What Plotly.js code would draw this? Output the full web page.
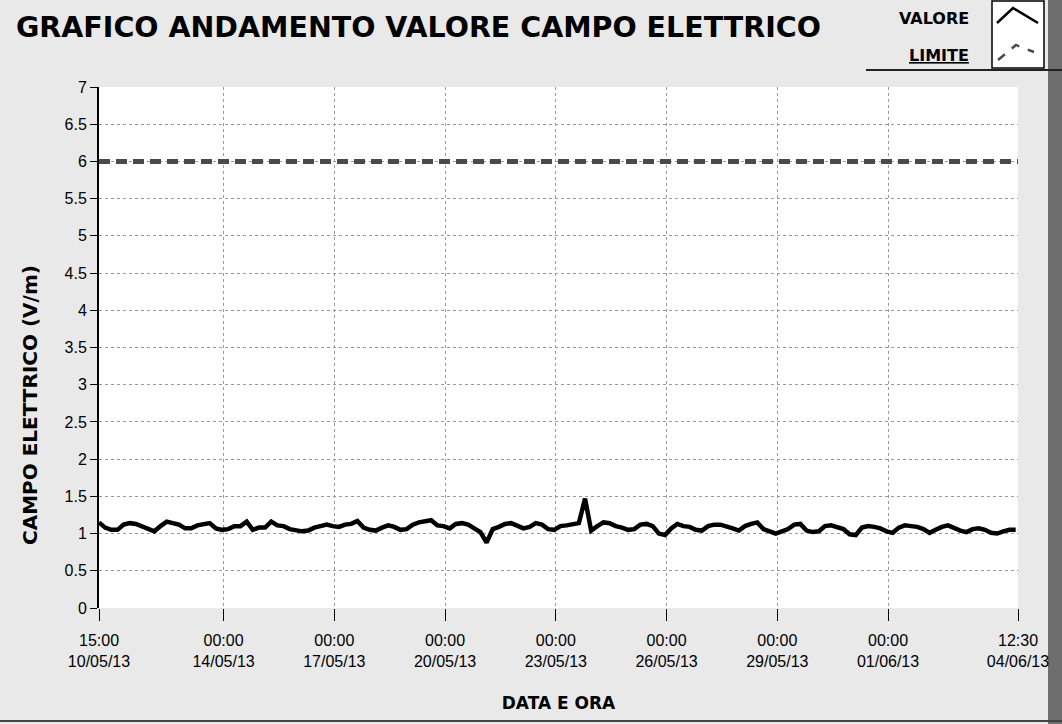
<!DOCTYPE html>
<html>
<head>
<meta charset="utf-8">
<script src="https://cdn.plot.ly/plotly-3.0.1.min.js"></script>
<style>
html,body{margin:0;padding:0;background:#e9e9e9;}
#chart{width:1062px;height:724px;}
</style>
</head>
<body>
<div id="chart"></div>
<script>
// ---- data ----
const startTime = "2013-05-10 15:00";
const endTime = "2013-06-04 12:30";
const stepHours = 4;
const valore = [
1.15,1.08,1.05,1.05,1.12,1.14,1.13,1.10,1.06,1.03,
1.10,1.16,1.14,1.12,1.07,1.07,1.11,1.12,1.14,1.07,
1.05,1.06,1.10,1.10,1.16,1.05,1.08,1.08,1.16,1.11,
1.10,1.06,1.04,1.03,1.04,1.08,1.10,1.12,1.10,1.09,
1.12,1.13,1.17,1.08,1.05,1.04,1.08,1.11,1.09,1.05,
1.06,1.12,1.15,1.16,1.18,1.11,1.10,1.07,1.13,1.14,
1.12,1.07,1.02,0.88,1.06,1.09,1.13,1.14,1.10,1.07,
1.09,1.14,1.12,1.06,1.05,1.10,1.11,1.12,1.14,1.47,
1.04,1.10,1.15,1.14,1.10,1.08,1.05,1.06,1.12,1.13,
1.10,1.00,0.98,1.07,1.13,1.10,1.09,1.05,1.04,1.10,
1.12,1.12,1.10,1.07,1.04,1.10,1.13,1.15,1.06,1.03,
1.00,1.03,1.06,1.12,1.13,1.04,1.02,1.03,1.10,1.11,
1.09,1.06,0.99,0.98,1.08,1.10,1.09,1.07,1.03,1.01,
1.08,1.11,1.10,1.09,1.06,1.01,1.05,1.09,1.11,1.07,
1.04,1.02,1.06,1.07,1.05,1.01,1.00,1.03,1.05,1.05
];
const limite = [6, 6];
const tickDates = ["2013-05-10 15:00","2013-05-14 00:00","2013-05-17 00:00","2013-05-20 00:00",
  "2013-05-23 00:00","2013-05-26 00:00","2013-05-29 00:00","2013-06-01 00:00","2013-06-04 12:30"];
const tickLabels = ["15:00<br>10/05/13","00:00<br>14/05/13","00:00<br>17/05/13","00:00<br>20/05/13",
  "00:00<br>23/05/13","00:00<br>26/05/13","00:00<br>29/05/13","00:00<br>01/06/13","12:30<br>04/06/13"];
const legendLabels = ["VALORE", "LIMITE"];

function pad(n){return (n<10?"0":"")+n;}
const t0 = new Date(2013,4,10,15,0).getTime();
const times = valore.map((v,i)=>{
  const d = new Date(t0 + i*stepHours*3600*1000);
  return d.getFullYear()+"-"+pad(d.getMonth()+1)+"-"+pad(d.getDate())+" "+pad(d.getHours())+":"+pad(d.getMinutes());
});

const traces = [
  {x: times, y: valore, type:"scatter", mode:"lines", name:legendLabels[0], line:{color:"#000", width:4.5}},
  {x: [startTime, endTime], y: limite, type:"scatter", mode:"lines", name:legendLabels[1], line:{color:"#4a4a4a", width:5, dash:"11px,6px"}}
];

// plot area in pixels: x 99..1018, y 87..608
const PL=99, PR=1018, PT=87, PB=608;
const px = v => (v-PL)/(PR-PL);
const py = v => (PB-v)/(PB-PT);

const layout = {
  width:1062, height:724,
  paper_bgcolor:"#e9e9e9", plot_bgcolor:"#ffffff",
  margin:{l:PL, r:1062-PR, t:PT, b:724-PB},
  font:{family:"Liberation Sans, Arial, sans-serif", color:"#000", size:15},
  title:{text:"<b>GRAFICO ANDAMENTO VALORE CAMPO ELETTRICO</b>", x:0.015, xanchor:"left", y:0.962, yanchor:"middle",
    font:{family:"DejaVu Sans, sans-serif", size:28.5, color:"#000"}},
  showlegend:false,
  xaxis:{type:"date", range:[startTime, endTime], tickmode:"array", tickvals:tickDates, ticktext:tickLabels,
    showgrid:true, gridcolor:"#9a9a9a", griddash:"dot", gridwidth:1,
    ticks:"outside", ticklen:12, tickcolor:"#000", showline:false, zeroline:false, ticklabelstandoff:6,
    tickfont:{family:"Liberation Sans Narrow, Liberation Sans, Arial, sans-serif", size:16},
    title:{text:"<b>DATA E ORA</b>", font:{family:"DejaVu Sans, sans-serif", size:17}, standoff:28}},
  yaxis:{range:[0,7], dtick:0.5, tick0:0, showgrid:true, gridcolor:"#9a9a9a", griddash:"dot", gridwidth:1,
    ticks:"outside", ticklen:7, tickcolor:"#000", showline:true, linecolor:"#000", linewidth:2, zeroline:false,
    tickfont:{family:"Liberation Sans, Arial, sans-serif", size:16}},
  annotations:[
    {text:"<b>CAMPO ELETTRICO (V/m)</b>", xref:"paper", yref:"paper", x:px(30), y:py(405), textangle:-90,
     xanchor:"center", yanchor:"middle", showarrow:false, font:{family:"DejaVu Sans, sans-serif", size:20}},
    {text:"<b>"+legendLabels[0]+"</b>", xref:"paper", yref:"paper", x:px(971), y:py(18), xanchor:"right", yanchor:"middle", showarrow:false,
     font:{family:"DejaVu Sans, sans-serif", size:16}},
    {text:"<b><u>"+legendLabels[1]+"</u></b>", xref:"paper", yref:"paper", x:px(971), y:py(55), xanchor:"right", yanchor:"middle", showarrow:false,
     font:{family:"DejaVu Sans, sans-serif", size:16}}
  ],
  shapes:[
    {type:"rect", xref:"paper", yref:"paper", x0:px(1048), x1:px(1064), y0:py(730), y1:py(-5), fillcolor:"#6e6e6e", line:{width:0}, layer:"below"},
    {type:"rect", xref:"paper", yref:"paper", x0:px(992), x1:px(1044), y0:py(68), y1:py(1), fillcolor:"#ffffff", line:{color:"#000", width:1.5}},
    {type:"path", xref:"paper", yref:"paper",
     path:"M "+px(997)+","+py(23)+" L "+px(1013)+","+py(8)+" L "+px(1038)+","+py(23),
     line:{color:"#000", width:2.5}},
    {type:"path", xref:"paper", yref:"paper",
     path:"M "+px(998)+","+py(60)+" L "+px(1016)+","+py(45)+" L "+px(1034)+","+py(52),
     line:{color:"#4a4a4a", width:2.5, dash:"dash"}},
    {type:"line", xref:"paper", yref:"paper", x0:px(866), x1:px(1062), y0:py(70), y1:py(70), line:{color:"#222", width:2}},
    {type:"line", xref:"paper", yref:"paper", x0:px(0), x1:px(1062), y0:py(721), y1:py(721), line:{color:"#444", width:2}}
  ]
};

Plotly.newPlot("chart", traces, layout, {displayModeBar:false, staticPlot:true});
</script>
</body>
</html>
